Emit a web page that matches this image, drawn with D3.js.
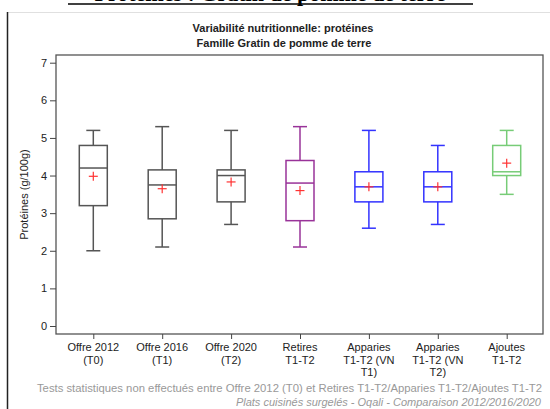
<!DOCTYPE html>
<html><head><meta charset="utf-8">
<script src="https://cdn.jsdelivr.net/npm/d3@7"></script>
<style>body{margin:0;background:#fff;}svg{display:block;}</style>
</head><body>
<svg id="c" width="550" height="409"></svg>
<script>
const categories = [["Offre 2012","(T0)"],["Offre 2016","(T1)"],["Offre 2020","(T2)"],["Retires","T1-T2"],["Apparies","T1-T2 (VN","T1)"],["Apparies","T1-T2 (VN","T2)"],["Ajoutes","T1-T2"]];
const whiskLow  = [2.0, 2.1, 2.7, 2.1, 2.6, 2.7, 3.5];
const q1        = [3.2, 2.85, 3.3, 2.8, 3.3, 3.3, 4.0];
const medians   = [4.2, 3.75, 4.0, 3.8, 3.7, 3.7, 4.1];
const q3        = [4.8, 4.15, 4.15, 4.4, 4.1, 4.1, 4.8];
const whiskHigh = [5.2, 5.3, 5.2, 5.3, 5.2, 4.8, 5.2];
const means     = [3.98, 3.65, 3.83, 3.6, 3.7, 3.7, 4.33];
const colors    = ["#555","#555","#555","#993399","#3333ff","#3333ff","#77cc77"];
const yTicks = [0,1,2,3,4,5,6,7];

const svg = d3.select("#c");
const F = "'Liberation Sans', Arial, sans-serif";

// page title (cut off at top, as in the reference)
svg.append("text").attr("x",270).attr("y",1).attr("text-anchor","middle")
  .attr("font-family","'Liberation Serif', 'Times New Roman', serif").attr("font-weight","bold")
  .attr("font-size",22).attr("fill","#000").text("Protéines : Gratin de pomme de terre");
svg.append("line").attr("x1",68).attr("x2",473).attr("y1",4).attr("y2",4).attr("stroke","#000").attr("stroke-width",1.6);

// panel borders
svg.append("line").attr("x1",7.5).attr("x2",550).attr("y1",12.5).attr("y2",12.5).attr("stroke","#e0e0e0");
svg.append("line").attr("x1",7.5).attr("x2",7.5).attr("y1",12).attr("y2",409).attr("stroke","#222").attr("stroke-width",1.5);

// chart titles
svg.append("text").attr("x",283).attr("y",32).attr("text-anchor","middle").attr("font-family",F)
  .attr("font-weight","bold").attr("font-size",11).attr("fill","#222").text("Variabilité nutritionnelle: protéines");
svg.append("text").attr("x",284).attr("y",47).attr("text-anchor","middle").attr("font-family",F)
  .attr("font-weight","bold").attr("font-size",11).attr("fill","#222").text("Famille Gratin de pomme de terre");

const pLeft=56, pRight=543, pTop=55, pBottom=334;
const y = d3.scaleLinear().domain([0,7]).range([326,62.7]);
const x = d3.scalePoint().domain(d3.range(categories.length)).range([93.3,506.7]);

// frame
svg.append("rect").attr("x",pLeft).attr("y",pTop).attr("width",pRight-pLeft).attr("height",pBottom-pTop)
  .attr("fill","none").attr("stroke","#555").attr("stroke-width",1.3);

// y axis
const ya = svg.append("g").attr("transform",`translate(${pLeft},0)`)
  .call(d3.axisLeft(y).tickValues(yTicks).tickFormat(d3.format("d")).tickSize(6).tickPadding(3));
ya.select(".domain").remove();
ya.selectAll("line").attr("stroke","#444");
ya.selectAll("text").attr("font-family",F).attr("font-size",11).attr("fill","#222");

// x axis
const xa = svg.append("g").attr("transform",`translate(0,${pBottom})`)
  .call(d3.axisBottom(x).tickSize(5).tickFormat(""));
xa.select(".domain").remove();
xa.selectAll("line").attr("stroke","#444");
categories.forEach((lines,i)=>{
  const t = svg.append("text").attr("x",x(i)).attr("y",351).attr("text-anchor","middle")
    .attr("font-family",F).attr("font-size",11).attr("fill","#222");
  lines.forEach((l,j)=>t.append("tspan").attr("x",x(i)).attr("dy", j===0?0:12.5).text(l));
});

svg.append("text").attr("transform","translate(28,194.5) rotate(-90)").attr("text-anchor","middle")
  .attr("font-family",F).attr("font-size",11).attr("fill","#222").text("Protéines (g/100g)");

// boxes
const bw=28, cw=14;
categories.forEach((c,i)=>{
  const g = svg.append("g").attr("stroke",colors[i]).attr("stroke-width",1.5).attr("fill","none");
  const cx = x(i);
  g.append("line").attr("x1",cx).attr("x2",cx).attr("y1",y(whiskHigh[i])).attr("y2",y(q3[i]));
  g.append("line").attr("x1",cx).attr("x2",cx).attr("y1",y(q1[i])).attr("y2",y(whiskLow[i]));
  g.append("line").attr("x1",cx-cw/2).attr("x2",cx+cw/2).attr("y1",y(whiskHigh[i])).attr("y2",y(whiskHigh[i]));
  g.append("line").attr("x1",cx-cw/2).attr("x2",cx+cw/2).attr("y1",y(whiskLow[i])).attr("y2",y(whiskLow[i]));
  g.append("rect").attr("x",cx-bw/2).attr("y",y(q3[i])).attr("width",bw).attr("height",y(q1[i])-y(q3[i]));
  g.append("line").attr("x1",cx-bw/2).attr("x2",cx+bw/2).attr("y1",y(medians[i])).attr("y2",y(medians[i]));
  const m = svg.append("g").attr("stroke","#ff3333").attr("stroke-width",1.2);
  m.append("line").attr("x1",cx-4.5).attr("x2",cx+4.5).attr("y1",y(means[i])).attr("y2",y(means[i]));
  m.append("line").attr("x1",cx).attr("x2",cx).attr("y1",y(means[i])-4.5).attr("y2",y(means[i])+4.5);
});

// footer
svg.append("text").attr("x",542).attr("y",392).attr("text-anchor","end").attr("font-family",F)
  .attr("font-size",11.3).attr("fill","#999")
  .text("Tests statistiques non effectués entre Offre 2012 (T0) et Retires T1-T2/Apparies T1-T2/Ajoutes T1-T2");
svg.append("text").attr("x",541).attr("y",406).attr("text-anchor","end").attr("font-family",F)
  .attr("font-size",11).attr("font-style","italic").attr("fill","#999")
  .text("Plats cuisinés surgelés - Oqali - Comparaison 2012/2016/2020");
</script>
</body></html>
